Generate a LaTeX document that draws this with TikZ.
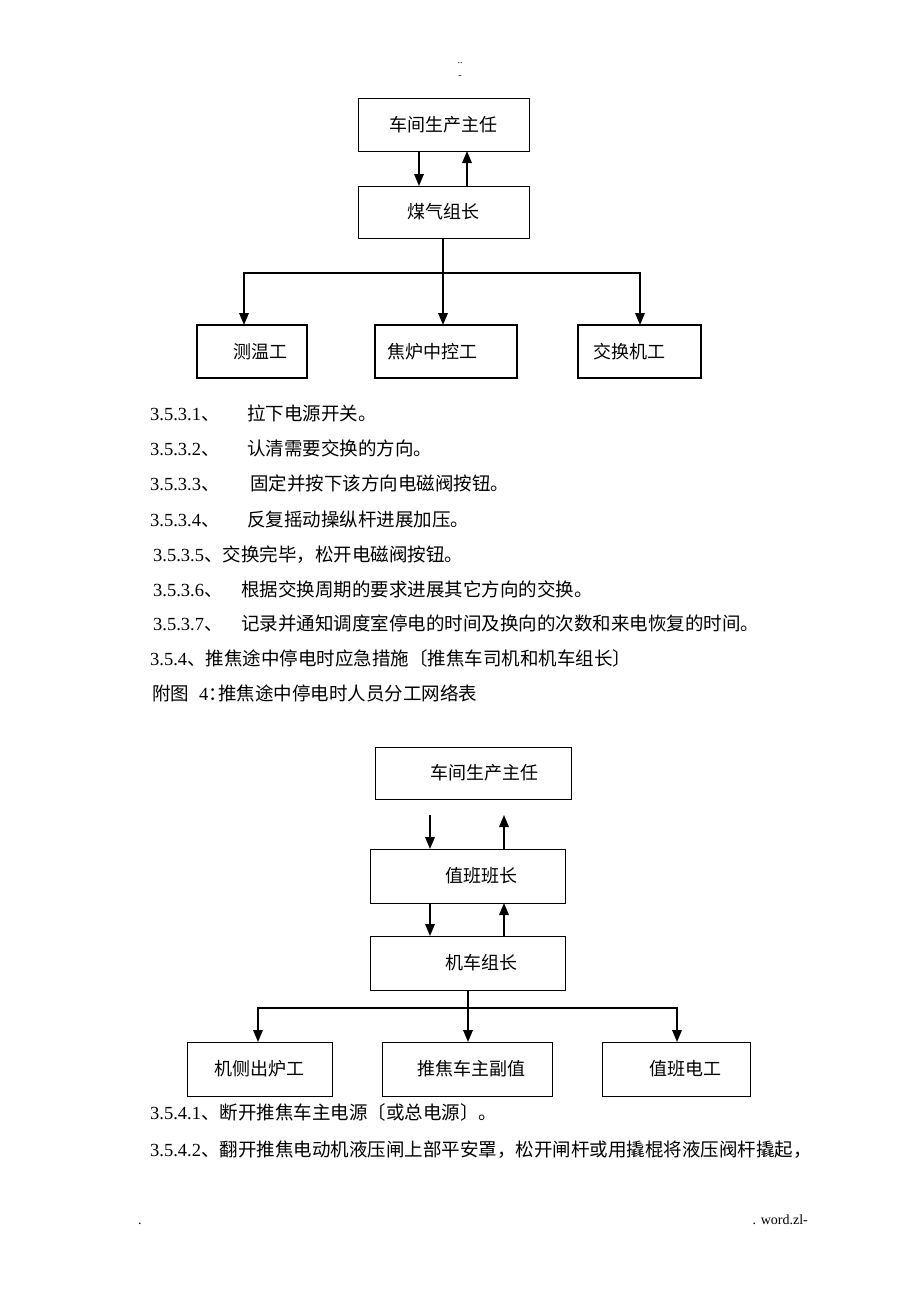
\documentclass[tikz,border=0pt]{standalone}
\usepackage{fontspec}
\setmainfont{Liberation Serif}
\newfontfamily\cjk{Noto Sans CJK SC}
\usetikzlibrary{arrows.meta}
\begin{document}
\begin{tikzpicture}[x=1pt,y=-1pt,
  box/.style={draw, line width=1pt, inner sep=0pt, outer sep=0pt},
  sbox/.style={draw, line width=1.6pt, inner sep=0pt, outer sep=0pt},
  arr/.style={line width=1.8pt, -{Triangle[length=12pt,width=9.5pt]}},
  ln/.style={line width=1.8pt},
  lbl/.style={inner sep=0pt, font=\cjk\fontsize{18}{18}\selectfont},
  txt/.style={anchor=base west, inner sep=0pt, font=\fontsize{18.5}{18.5}\selectfont},
  small/.style={inner sep=0pt, font=\fontsize{10}{10}\selectfont},
  foot/.style={inner sep=0pt, font=\fontsize{14}{14}\selectfont}]
\useasboundingbox[fill=white] (0,0) rectangle (920,1301);

% header
\node[small] (h1) at (460,63) {..};
\node[small] (h2) at (460,77) {-};

% ---------- first chart ----------
\node[box, minimum width=171pt, minimum height=53pt, label={[lbl]center:车间生产主任}] (a) at (443.5,124.5) {};
\node[box, minimum width=171pt, minimum height=52pt, label={[lbl]center:煤气组长}] (b) at (443.5,212) {};
\draw[arr] ([xshift=-24.5pt]a.south) -- ([xshift=-24.5pt]b.north);
\draw[arr] ([xshift=23.5pt]b.north) -- ([xshift=23.5pt]a.south);

\node[sbox, minimum width=110pt, minimum height=53pt, label={[lbl, xshift=8pt]center:测温工}] (t1) at (252,351.5) {};
\node[sbox, minimum width=142pt, minimum height=53pt, label={[lbl, xshift=-14pt]center:焦炉中控工}] (t2) at (446,351.5) {};
\node[sbox, minimum width=123pt, minimum height=53pt, label={[lbl, xshift=-10pt]center:交换机工}] (t3) at (639.5,351.5) {};

\coordinate (j1) at (443,273);
\draw[ln] (j1 |- b.south) -- (j1);
\draw[arr] (j1) -| ([xshift=-8pt]t1.north);
\draw[arr] (j1) -- (j1 |- t2.north);
\draw[arr] (j1) -| ([xshift=0.5pt]t3.north);

% ---------- text lines ----------
\node[txt] (l1) at (150,420) {\makebox[97pt][l]{3.5.3.1{\cjk 、}}{\cjk 拉下电源开关。}};
\node[txt] (l2) at (150,455) {\makebox[97pt][l]{3.5.3.2{\cjk 、}}{\cjk 认清需要交换的方向。}};
\node[txt] (l3) at (150,490) {\makebox[100pt][l]{3.5.3.3{\cjk 、}}{\cjk 固定并按下该方向电磁阀按钮。}};
\node[txt] (l4) at (150,526) {\makebox[97pt][l]{3.5.3.4{\cjk 、}}{\cjk 反复摇动操纵杆进展加压。}};
\node[txt] (l5) at (153,561) {3.5.3.5{\cjk 、交换完毕，松开电磁阀按钮。}};
\node[txt] (l6) at (153,596) {\makebox[88pt][l]{3.5.3.6{\cjk 、}}{\cjk 根据交换周期的要求进展其它方向的交换。}};
\node[txt] (l7) at (153,630) {\makebox[88pt][l]{3.5.3.7{\cjk 、}}{\cjk 记录并通知调度室停电的时间及换向的次数和来电恢复的时间。}};
\node[txt] (l8) at (150,665) {3.5.4{\cjk 、推焦途中停电时应急措施〔推焦车司机和机车组长〕}};
\node[txt] (l9) at (152,700) {{\cjk 附图}\hspace{10pt}4\makebox[10pt][l]{\cjk ：}{\cjk 推焦途中停电时人员分工网络表}};

% ---------- second chart ----------
\node[box, minimum width=196pt, minimum height=52pt, label={[lbl, xshift=11pt]center:车间生产主任}] (c) at (473,773) {};
\node[box, minimum width=195pt, minimum height=54pt, label={[lbl, xshift=14pt]center:值班班长}] (d) at (467.5,876) {};
\node[box, minimum width=195pt, minimum height=54pt, label={[lbl, xshift=14pt]center:机车组长}] (e) at (467.5,963) {};

\coordinate (f1) at (430,815);
\coordinate (f2) at (504,815);
\draw[arr] (f1) -- (f1 |- d.north);
\draw[arr] (f2 |- d.north) -- (f2);
\draw[arr] ([xshift=-37.5pt]d.south) -- ([xshift=-37.5pt]e.north);
\draw[arr] ([xshift=36.5pt]e.north) -- ([xshift=36.5pt]d.south);

\node[box, minimum width=145pt, minimum height=54pt, label={[lbl]center:机侧出炉工}] (u1) at (259.5,1069) {};
\node[box, minimum width=170pt, minimum height=54pt, label={[lbl, xshift=4pt]center:推焦车主副值}] (u2) at (467,1069) {};
\node[box, minimum width=148pt, minimum height=54pt, label={[lbl, xshift=9pt]center:值班电工}] (u3) at (676,1069) {};

\coordinate (j2) at (468,1008);
\draw[ln] (j2 |- e.south) -- (j2);
\draw[arr] (j2) -| ([xshift=-1.5pt]u1.north);
\draw[arr] (j2) -- (j2 |- u2.north);
\draw[arr] (j2) -| ([xshift=1pt]u3.north);

\node[txt] (m1) at (150,1119) {3.5.4.1{\cjk 、断开推焦车主电源〔或总电源〕。}};
\node[txt] (m2) at (150,1156) {3.5.4.2{\cjk 、翻开推焦电动机液压闸上部平安罩，松开闸杆或用撬棍将液压阀杆撬起，}};

% footer
\node[foot, anchor=base west] (ft1) at (138,1224) {.};
\node[foot, anchor=base east] (ft2) at (808,1224) {. word.zl-};
\end{tikzpicture}
\end{document}
